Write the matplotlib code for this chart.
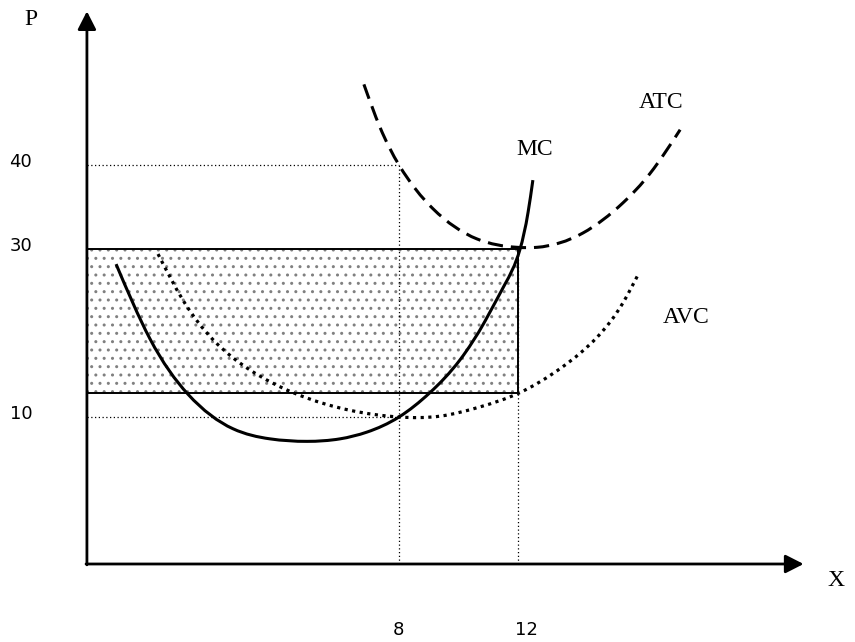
import numpy as np
import matplotlib
matplotlib.use("Agg")
import matplotlib.pyplot as plt
from matplotlib.path import Path
from matplotlib.patches import PathPatch, Rectangle

# ---- data (Q on x, P on y) ----
q_ticks = [8, 12]
p_ticks = [10, 30, 40]

mc_q = [-1.51, -0.37, 0.91, 2.42, 3.66, 4.91, 6.02, 6.92,
        8.0, 9.04, 10.05, 10.89, 11.56, 12.07, 12.34, 12.5]
mc_p = [28.2, 19.3, 12.7, 8.6, 7.4, 7.1, 7.4, 8.2,
        10.0, 12.9, 16.8, 21.4, 25.8, 30.0, 34.4, 38.2]

atc_q = [6.82, 7.36, 8.0, 9.14, 10.62, 11.97, 12.64, 14.18, 15.53, 16.44, 17.45]
atc_p = [49.6, 44.5, 40.0, 34.8, 31.2, 30.2, 30.2, 31.9, 35.5, 39.0, 44.2]

avc_q = [-0.10, 0.74, 1.75, 2.99, 4.44, 6.35, 8.0, 9.38, 10.72, 12.0, 13.51, 14.66, 15.53, 16.03]
avc_p = [29.4, 23.9, 19.2, 15.6, 12.9, 10.8, 10.0, 10.1, 11.2, 12.8, 16.0, 19.5, 23.6, 26.9]

price = 30
avc_at_12 = 12.8
q_out = 12

# ---- layout ----
X0, Y0 = -2.49, -7.5          # where the drawn axes cross
XTIP, YTIP = 21.6, 58.3

fig = plt.figure(figsize=(8.55, 6.42), dpi=100)
ax = fig.add_axes([0, 0, 1, 1])
ax.set_xlim(-5.412, 23.328)
ax.set_ylim(-16.786, 59.643)
ax.axis("off")


def smooth_path(xs, ys):
    """Natural cubic spline through the read points, drawn as a Bezier path."""
    x = np.asarray(xs, float)
    y = np.asarray(ys, float)
    n = len(x)
    h = np.diff(x)
    s = np.diff(y) / h
    A = np.zeros((n, n))
    b = np.zeros(n)
    A[0, 0] = A[-1, -1] = 1.0
    for i in range(1, n - 1):
        A[i, i - 1] = h[i - 1]
        A[i, i] = 2 * (h[i - 1] + h[i])
        A[i, i + 1] = h[i]
        b[i] = 6 * (s[i] - s[i - 1])
    M = np.linalg.solve(A, b)
    verts = [(x[0], y[0])]
    codes = [Path.MOVETO]
    for i in range(n - 1):
        m0 = s[i] - h[i] * (2 * M[i] + M[i + 1]) / 6
        m1 = s[i] + h[i] * (M[i] + 2 * M[i + 1]) / 6
        d = h[i] / 3.0
        verts += [(x[i] + d, y[i] + m0 * d),
                  (x[i + 1] - d, y[i + 1] - m1 * d),
                  (x[i + 1], y[i + 1])]
        codes += [Path.CURVE4] * 3
    return Path(verts, codes)


# shaded rectangle
ax.add_patch(Rectangle((X0, avc_at_12), q_out - X0, price - avc_at_12,
                       facecolor="white", edgecolor="0.5", linewidth=0,
                       hatch="..", zorder=1))
ax.add_patch(Rectangle((X0, avc_at_12), q_out - X0, price - avc_at_12,
                       fill=False, edgecolor="black", linewidth=1.4, zorder=2))

# dotted guide lines
guide = dict(color="black", linewidth=0.9, linestyle=(0, (1, 2)), zorder=2)
ax.plot([X0, q_ticks[0]], [p_ticks[2], p_ticks[2]], **guide)
ax.plot([q_ticks[0], q_ticks[0]], [Y0, p_ticks[2]], **guide)
ax.plot([X0, q_ticks[0]], [p_ticks[0], p_ticks[0]], **guide)
ax.plot([q_ticks[1], q_ticks[1]], [Y0, price], **guide)

# curves
ax.add_patch(PathPatch(smooth_path(mc_q, mc_p), fill=False, edgecolor="black",
                       linewidth=2.2, zorder=4, capstyle="butt"))
ax.add_patch(PathPatch(smooth_path(atc_q, atc_p), fill=False, edgecolor="black",
                       linewidth=2.2, linestyle=(0, (5, 2.6)), zorder=4,
                       capstyle="butt"))
ax.add_patch(PathPatch(smooth_path(avc_q, avc_p), fill=False, edgecolor="black",
                       linewidth=2.3, linestyle=(0, (1, 1.4)), zorder=4,
                       capstyle="butt"))

# axes with arrows
arrow = dict(arrowstyle="-|>,head_length=0.55,head_width=0.28", color="black",
             lw=2.0, shrinkA=0, shrinkB=0, mutation_scale=20)
ax.annotate("", xy=(X0, YTIP), xytext=(X0, Y0 - 0.1), arrowprops=arrow, zorder=5)
ax.annotate("", xy=(XTIP, Y0), xytext=(X0 - 0.03, Y0), arrowprops=arrow, zorder=5)

serif = dict(family="Liberation Serif", fontsize=17, color="black")
ax.text(-4.37, 57.3, "P", ha="center", va="center", **serif)
ax.text(22.69, -9.5, "X", ha="center", va="center", **serif)
ax.text(16.81, 47.5, "ATC", ha="center", va="center", **serif)
ax.text(12.57, 41.9, "MC", ha="center", va="center", **serif)
ax.text(17.65, 21.9, "AVC", ha="center", va="center", **serif)

num = dict(family="DejaVu Sans", fontsize=13, color="black")
for p in p_ticks:
    ax.text(-4.71, p + 0.3, str(p), ha="center", va="center", **num)
for q, dx in zip(q_ticks, [-0.03, 0.27]):
    ax.text(q + dx, -15.4, str(q), ha="center", va="center", **num)

fig.savefig("out.png", dpi=100)
